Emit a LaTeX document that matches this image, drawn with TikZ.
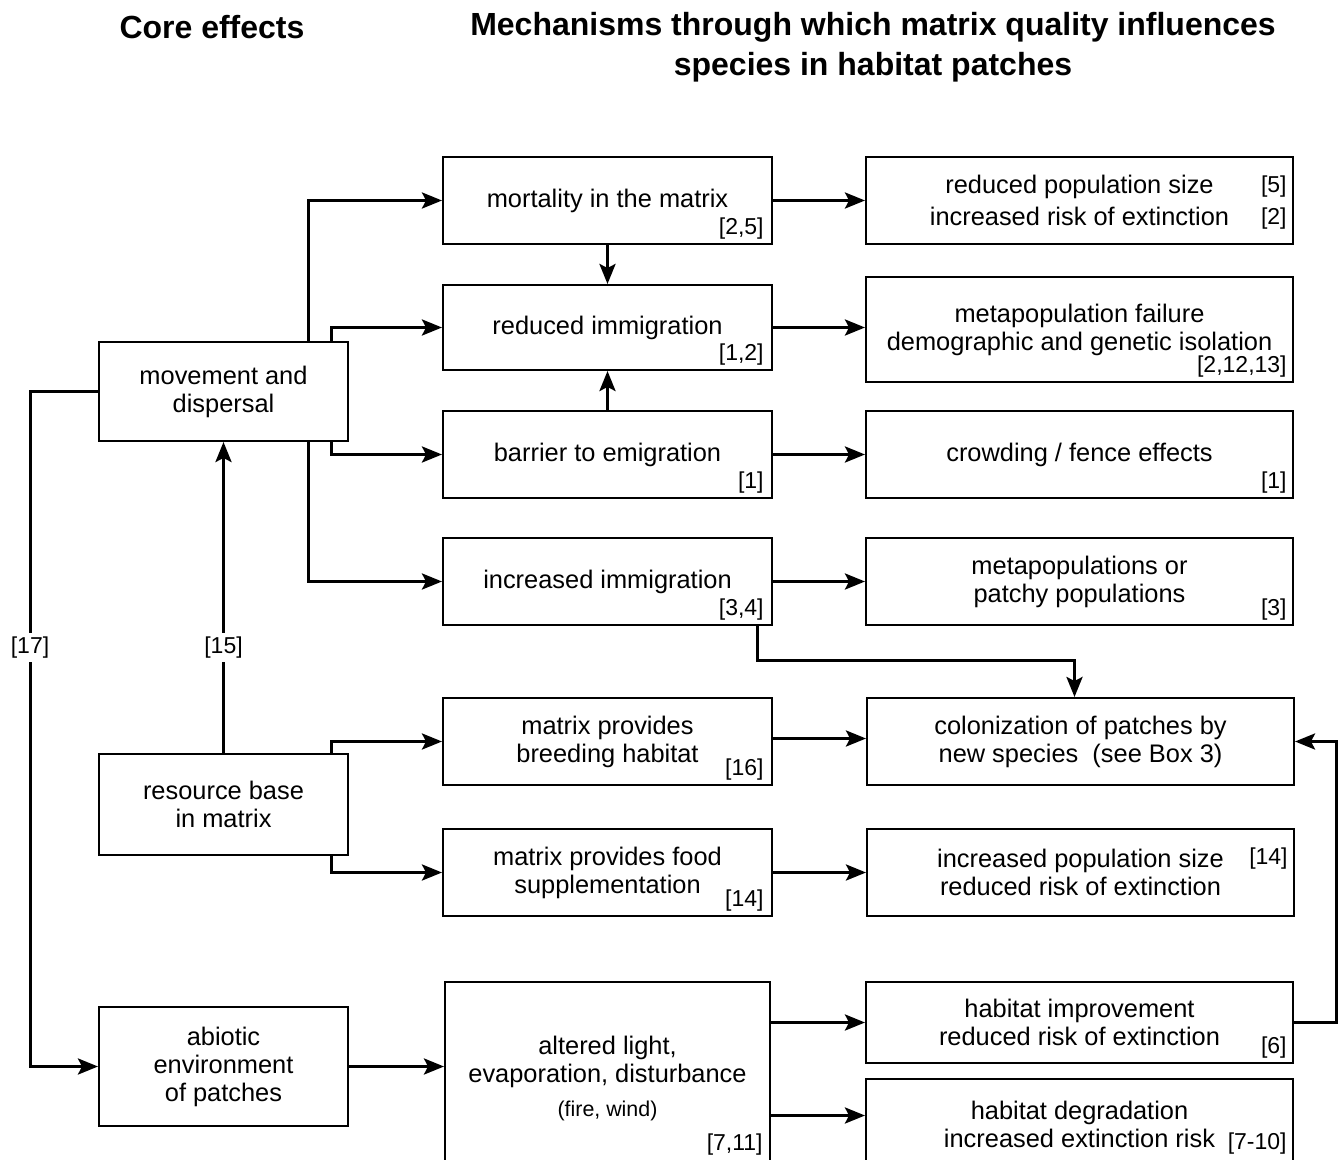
\documentclass[tikz,border=0pt]{standalone}
\usepackage{fontspec}
\setmainfont{Liberation Sans}
\usetikzlibrary{arrows.meta,calc}
\begin{document}
\begin{tikzpicture}[x=0.5pt,y=-0.5pt,
  box/.style={draw, line width=1pt, align=center, inner sep=2pt, font=\fontsize{12.7}{14}\selectfont},
  lbox/.style={box, minimum width=124.5pt},
  mbox/.style={box, minimum width=164.5pt},
  rbox/.style={box, minimum width=213.5pt},
  ref/.style={inner sep=0pt, font=\fontsize{11.5}{13}\selectfont},
  arr/.style={line width=1.5pt, -{Stealth[length=10pt,width=8pt,inset=2pt]}},
  lbl/.style={fill=white, inner sep=2pt, font=\fontsize{11.5}{13}\selectfont},
  title/.style={font=\fontsize{16}{20}\selectfont\bfseries, align=center}
]
\useasboundingbox (0,0) rectangle (1338,1160);
\clip (0,0) rectangle (1338,1160);

% titles
\node[title] (t1) at (212,27) {Core effects};
\node[title] (t2) at (873,47) {Mechanisms through which matrix quality influences\\species in habitat patches};

% left column
\node[lbox, minimum height=49.5pt] (mov) at (223.5,391.5) {movement and\\dispersal};
\node[lbox, minimum height=50.5pt] (res) at (223.5,804.5) {resource base\\in matrix};
\node[lbox, minimum height=59.5pt] (abio) at (223.5,1066.5) {abiotic\\environment\\of patches};

% middle column
\node[mbox, minimum height=43.5pt] (mort) at (607.5,200.5) {mortality in the matrix};
\node[mbox, minimum height=42.5pt] (redim) at (607.5,327.5) {reduced immigration};
\node[mbox, minimum height=43.5pt] (barr) at (607.5,454.5) {barrier to emigration};
\node[mbox, minimum height=43.5pt] (incim) at (607.5,581.5) {increased immigration};
\node[mbox, minimum height=43.5pt] (breed) at (607.5,741.5) {matrix provides\\breeding habitat};
\node[mbox, minimum height=43.5pt] (food) at (607.5,872.5) {matrix provides food\\supplementation};
\node[box, minimum width=162.5pt, minimum height=96.5pt] (light) at (607.5,1078.5) {altered light,\\evaporation, disturbance\\[3pt]{\fontsize{10.7}{13}\selectfont (fire, wind)}};

% right column
\node[rbox, minimum height=43.5pt] (rpop) at (1079.5,200.5) {reduced population size\\[2pt]increased risk of extinction};
\node[rbox, minimum height=52.5pt] (meta) at (1079.5,329.5) {metapopulation failure\\demographic and genetic isolation};
\node[rbox, minimum height=43.5pt] (crowd) at (1079.5,454.5) {crowding / fence effects};
\node[rbox, minimum height=43.5pt] (metap) at (1079.5,581.5) {metapopulations or\\patchy populations};
\node[rbox, minimum height=43.5pt] (colon) at (1080.5,741.5) {colonization of patches by\\new species\ \ (see Box 3)};
\node[rbox, minimum height=43.5pt] (ipop) at (1080.5,872.5) {increased population size\\reduced risk of extinction};
\node[rbox, minimum height=40.5pt] (himp) at (1079.5,1022.5) {habitat improvement\\reduced risk of extinction};
\node[rbox, minimum height=45.5pt] (hdeg) at (1079.5,1124.5) {habitat degradation\\increased extinction risk};

% references
\node[ref, anchor=south east] (r1) at ($(mort.south east)+(-9,-5)$) {[2,5]};
\node[ref, anchor=south east] (r2) at ($(redim.south east)+(-9,-5)$) {[1,2]};
\node[ref, anchor=south east] (r3) at ($(barr.south east)+(-9,-5)$) {[1]};
\node[ref, anchor=south east] (r4) at ($(incim.south east)+(-9,-5)$) {[3,4]};
\node[ref, anchor=south east] (r5) at ($(breed.south east)+(-9,-5)$) {[16]};
\node[ref, anchor=south east] (r6) at ($(food.south east)+(-9,-5)$) {[14]};
\node[ref, anchor=east] (r7) at ($(light.east)+(-8,66)$) {[7,11]};
\node[ref, anchor=east] (r8) at ($(rpop.east)+(-7,-14)$) {[5]};
\node[ref, anchor=east] (r9) at ($(rpop.east)+(-7,18)$) {[2]};
\node[ref, anchor=south east] (r10) at ($(meta.south east)+(-7,-5)$) {[2,12,13]};
\node[ref, anchor=south east] (r11) at ($(crowd.south east)+(-7,-5)$) {[1]};
\node[ref, anchor=south east] (r12) at ($(metap.south east)+(-7,-5)$) {[3]};
\node[ref, anchor=east] (r13) at ($(ipop.east)+(-7,-13.5)$) {[14]};
\node[ref, anchor=south east] (r14) at ($(himp.south east)+(-7,-5)$) {[6]};
\node[ref, anchor=east] (r15) at ($(hdeg.east)+(-7,19)$) {[7-10]};

% connectors
\coordinate (tA) at ($(mov.north east)+(-41,0)$);
\coordinate (tB) at ($(mov.north east)+(-18,0)$);
\draw[arr] (tA) |- (mort.west);
\draw[arr] (mov.south -| tA) |- (incim.west);
\draw[arr] (tB) |- (redim.west);
\draw[arr] (mov.south -| tB) |- (barr.west);
\draw[arr] (mort.south) -- (redim.north);
\draw[arr] (barr.north) -- (redim.south);
\draw[arr] (mort.east) -- (mort.east -| rpop.west);
\draw[arr] (redim.east) -- (redim.east -| meta.west);
\draw[arr] (barr.east) -- (crowd.west);
\draw[arr] (incim.east) -- (metap.west);
\draw[arr] ($(breed.east)+(0,-3)$) -- ($(breed.east -| colon.west)+(0,-3)$);
\draw[arr] (food.east) -- (ipop.west);
\draw[arr] ($(incim.south east)+(-16,0)$) -- ++(0,34) -| ($(colon.north)+(-6,0)$);
\draw[arr] (res.north) -- (mov.south) node[lbl, pos=0.34] (l15) {[15]};
\draw[arr] (res.north -| tB) |- (breed.west);
\draw[arr] (res.south -| tB) |- (food.west);
\draw[arr] (mov.west) -- ++(-68,0) coordinate (k17) |- (abio.west);
\node[lbl] (l17) at (k17 |- l15) {[17]};
\draw[arr] (abio.east) -- (abio.east -| light.west);
\draw[arr] (light.east |- himp.west) -- (himp.west);
\draw[arr] ($(light.east |- hdeg.west)+(0,-9)$) -- ($(hdeg.west)+(0,-9)$);
\draw[arr] (himp.east) -- ++(42,0) |- (colon.east);
\end{tikzpicture}
\end{document}
